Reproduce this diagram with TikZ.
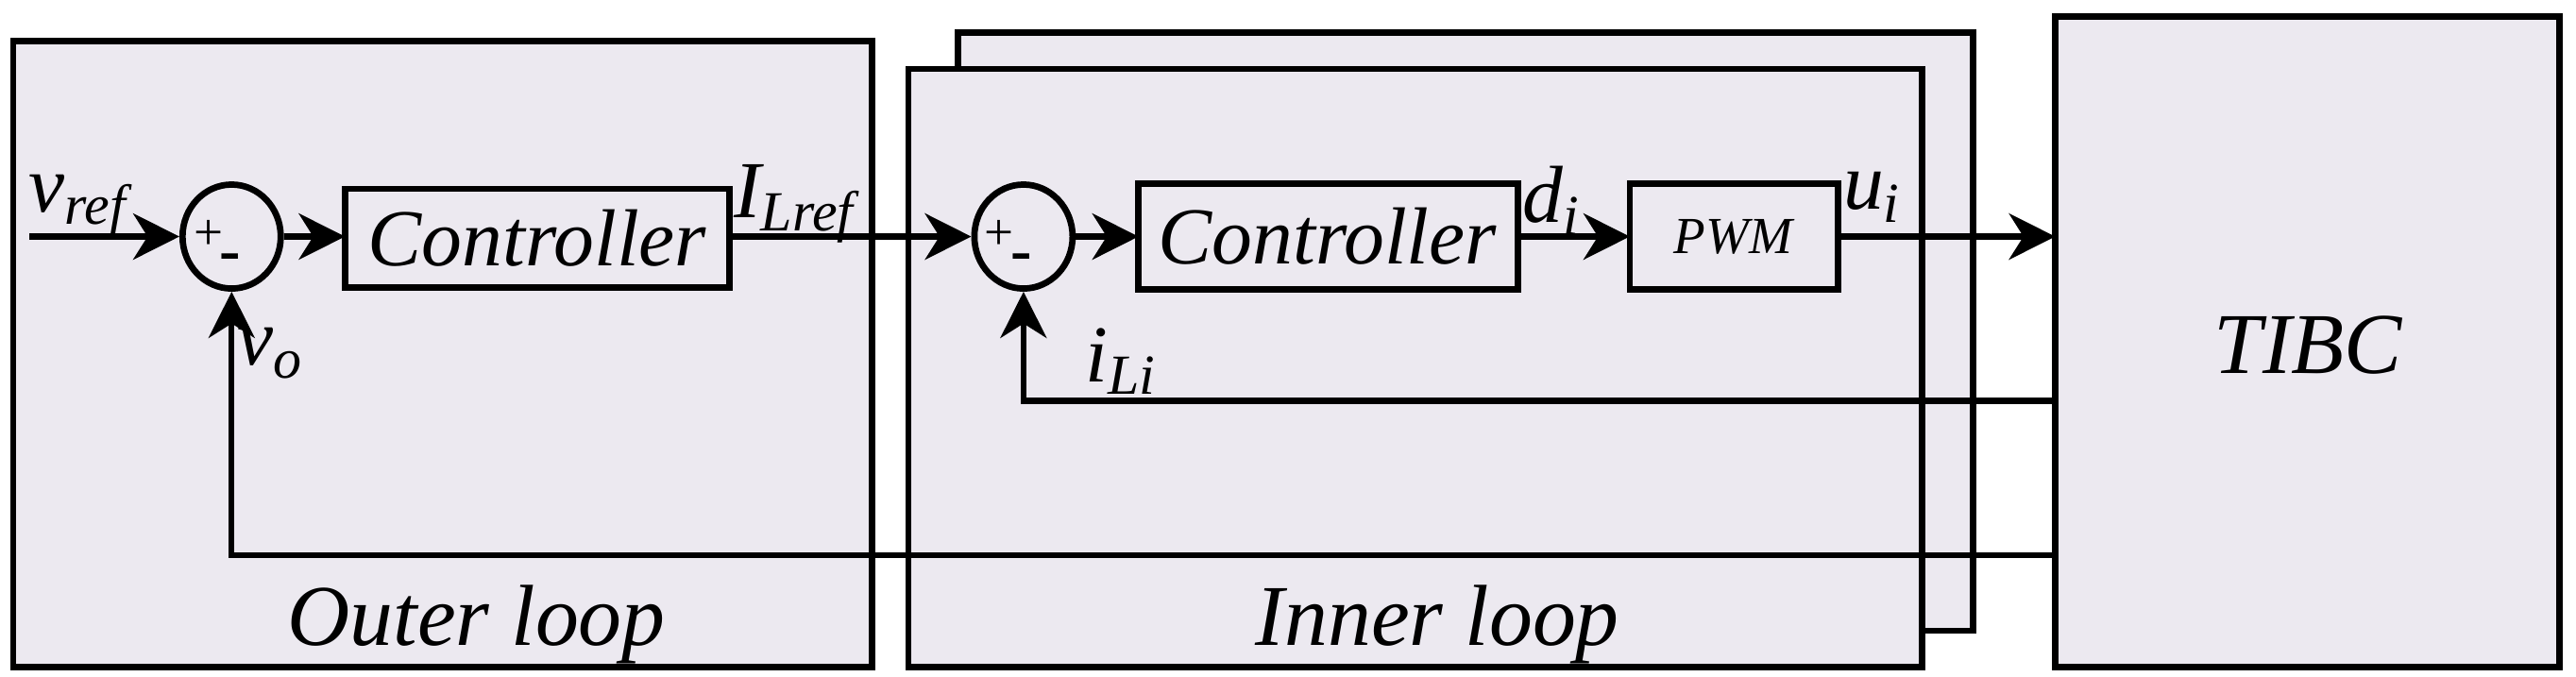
\documentclass[tikz,border=0pt]{standalone}
\usepackage{fontspec}
\setmainfont{Liberation Serif}[ItalicFont={Liberation Serif Italic}]
\usetikzlibrary{arrows.meta,shapes.geometric}
\definecolor{bg}{HTML}{ECE9F0}
\newcommand{\sig}[2]{#1\textsubscript{#2}}
\begin{document}
\begin{tikzpicture}[x=0.01cm,y=-0.01cm,
  panel/.style={draw,fill=bg,line width=1.1pt},
  box/.style={line width=1.1pt},
  sum/.style={draw,ellipse,line width=1.1pt,minimum width=17pt,minimum height=18pt,inner sep=0pt},
  sig/.style={line width=1pt,-{Stealth[length=8pt,width=8pt,inset=2.5pt]}},
  lab/.style={font=\fontsize{14}{14}\selectfont\itshape},
  big/.style={font=\fontsize{15}{15}\selectfont\itshape}]
\useasboundingbox (0,0) rectangle (1568,412);
\draw[panel] (8,25) rectangle (531,406);
\draw[panel] (583,20) rectangle (1201,384);
\draw[panel] (553,42) rectangle (1170,406);
\draw[panel] (1251,10) rectangle (1558,406);
\node[big] (tibc) at (1405,210) {TIBC};
\node[big] (ol) at (290,380) {Outer loop};
\node[big] (il) at (875,380) {Inner loop};
\coordinate (in) at (18,144);
\node[sum] (s1) at (141,144) {};
\node[font=\fontsize{9}{9}\selectfont] at (127,143) {+};
\node[font=\bfseries\fontsize{11}{11}\selectfont] at (140,160) {-};
\node[sum] (s2) at (623,144) {};
\node[font=\fontsize{9}{9}\selectfont] at (608,143) {+};
\node[font=\bfseries\fontsize{11}{11}\selectfont] at (622,160) {-};
\draw[box] (210,115) rectangle (444,175);
\node[lab] (c1) at (327,145) {Controller};
\draw[box] (693,112) rectangle (924,176);
\node[lab] (c2) at (808,144) {Controller};
\draw[box] (992,112) rectangle (1119,176);
\node[font=\fontsize{9}{9}\selectfont\itshape] (pwm) at (1055,144) {PWM};
\coordinate (c1w) at (210,144); \coordinate (c1e) at (444,144);
\coordinate (c2w) at (693,144); \coordinate (c2e) at (924,144);
\coordinate (pw) at (992,144); \coordinate (pe) at (1119,144);
\coordinate (tw) at (1251,144);
\draw[sig] (in) -- (s1.west);
\draw[sig] (s1.east) -- (c1w);
\draw[sig] (c1e) -- (s2.west);
\draw[sig] (s2.east) -- (c2w);
\draw[sig] (c2e) -- (pw);
\draw[sig] (pe) -- (tw);
\coordinate (f1) at (1251,338); \coordinate (f1c) at (141,338);
\coordinate (f2) at (1251,244); \coordinate (f2c) at (623,244);
\draw[sig] (f1) -- (f1c) -- (s1.south);
\draw[sig] (f2) -- (f2c) -- (s2.south);
\node[lab] at (48,125) {\sig{v}{ref}};
\node[lab] at (484,124) {\sig{I}{Lref}};
\node[lab] at (945,122) {\sig{d}{i}};
\node[lab] at (1140,120) {\sig{u}{i}};
\node[lab] at (165,215) {\sig{v}{o}};
\node[lab] at (683,220) {\sig{i}{Li}};
\end{tikzpicture}
\end{document}
